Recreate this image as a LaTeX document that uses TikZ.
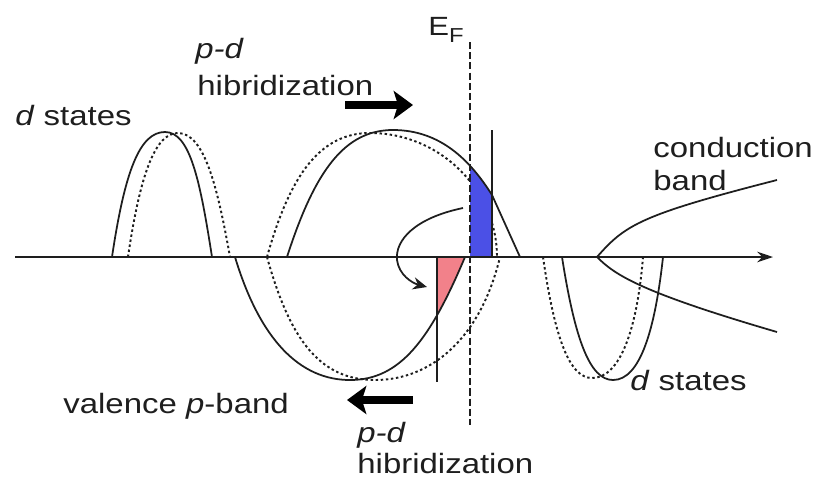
\documentclass[tikz,border=0pt]{standalone}
\usepackage{fontspec}
\setmainfont[FakeStretch=1.18]{Liberation Sans}
\usetikzlibrary{arrows.meta}
\definecolor{Ink}{HTML}{1E1E1E}
\definecolor{BandBlue}{HTML}{4B50E6}
\definecolor{BandPink}{HTML}{F2818A}
\tikzset{
  band solid/.style={draw=Ink,line width=1pt},
  band dotted/.style={draw=Ink,line width=1.1pt,dash pattern=on 1.4pt off 1.5pt},
  fermi line/.style={draw=Ink,line width=0.9pt,dash pattern=on 4pt off 1.8pt},
  edge line/.style={draw=Ink,line width=0.7pt},
  axis line/.style={draw=Ink,line width=1.1pt,-{Stealth[length=9pt,width=6pt]}},
  hyb arrow/.style={draw=black,line width=4.6pt,-{Stealth[length=11pt,width=16pt,inset=2.5pt]}},
  band label/.style={font=\fontsize{15.9}{19}\selectfont,text=Ink,inner sep=0pt,anchor=base west}
}

\begin{document}
\begin{tikzpicture}[x=0.02cm,y=-0.02cm]
  \useasboundingbox (0,0) rectangle (817,481);
  % dotted (unhybridized) bands
  \draw[band dotted] (128,257) .. controls (140,175) and (155,133) .. (178,133) .. controls (205,133) and (218,190) .. (230,257);
  \draw[band dotted] (267,257) .. controls (290,175) and (320,133) .. (370,133) .. controls (440,133) and (497,190) .. (497,257);
  \draw[band dotted] (267,257) .. controls (290,340) and (320,380) .. (375,380) .. controls (430,380) and (480,340) .. (500,257);
  \draw[band dotted] (543,257) .. controls (555,340) and (570,378) .. (592,378) .. controls (620,378) and (637,330) .. (643,257);
  % filled parts
  \begin{scope}
    \clip (470,100) rectangle (492,257);
    \fill[BandBlue] (287,257) .. controls (315,170) and (345,130) .. (393,130) .. controls (440,130) and (470,160) .. (492,195) -- (520,257) -- cycle;
  \end{scope}
  \begin{scope}
    \clip (437,257) rectangle (470,400);
    \fill[BandPink] (235,257) .. controls (260,340) and (300,380) .. (350,380) .. controls (400,380) and (430,340) .. (465,257) -- cycle;
  \end{scope}
  % solid (hybridized) bands
  \draw[band solid] (112,257) .. controls (125,170) and (140,132) .. (165,132) .. controls (190,132) and (200,180) .. (212,257);
  \draw[band solid] (287,257) .. controls (315,170) and (345,130) .. (393,130) .. controls (440,130) and (470,160) .. (492,195) -- (520,257);
  \draw[band solid] (235,257) .. controls (260,340) and (300,380) .. (350,380) .. controls (400,380) and (430,340) .. (465,257);
  \draw[band solid] (562,257) .. controls (575,340) and (590,380) .. (613,380) .. controls (640,380) and (655,330) .. (663,257);
  \draw[band solid] (597,257) .. controls (625,225) and (640,215) .. (777,180);
  \draw[band solid] (597,257) .. controls (615,275) and (640,292) .. (777,332);
  % axis and levels
  \draw[axis line] (15,257) -- (773,257);
  \draw[fermi line] (470,42) -- (470,425);
  \draw[edge line] (492,130) -- (492,257);
  \draw[edge line] (437,257) -- (437,382);
  \draw[band solid,-{Stealth[length=8pt,width=7pt]}] (463,208) .. controls (415,218) and (395,240) .. (397,260) .. controls (399,275) and (412,283) .. (427,287);
  \draw[hyb arrow] (345,105) -- (413,105);
  \draw[hyb arrow] (413,400) -- (347,400);
  % labels
  \node[band label] (dtop) at (15,125) {\textit{d} states};
  \node[band label] (pdtop) at (195,58) {\textit{p-d}};
  \node[band label] (hybtop) at (197,95) {hibridization};
  \node[band label,font=\fontsize{15}{17}\selectfont] (ef) at (428,35) {E\raisebox{-4.5pt}{\fontsize{11.5}{13}\selectfont F}};
  \node[band label] (cond) at (653,157) {conduction};
  \node[band label] (condb) at (653,190) {band};
  \node[band label] (val) at (63,413) {valence \textit{p}-band};
  \node[band label] (pdbot) at (357,442) {\textit{p-d}};
  \node[band label] (hybbot) at (357,473) {hibridization};
  \node[band label] (dbot) at (630,390) {\textit{d} states};
\end{tikzpicture}
\end{document}
